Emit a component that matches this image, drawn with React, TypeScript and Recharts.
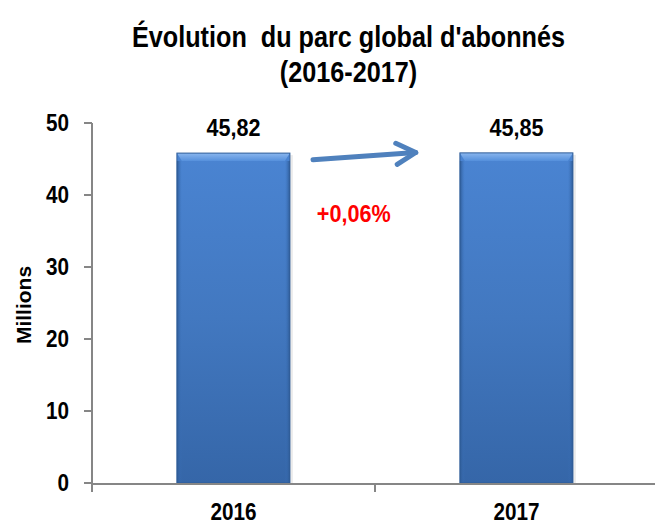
import {
  Bar,
  BarChart,
  LabelList,
  ReferenceDot,
  ReferenceLine,
  XAxis,
  YAxis,
} from 'recharts'

const years = ['2016', '2017']
const subscribers = [45.82, 45.85]
const valueLabels = ['45,82', '45,85']
const yTicks = [0, 10, 20, 30, 40, 50]
const growthLabel = '+0,06%'
const titleLines = ["Évolution  du parc global d'abonnés", '(2016-2017)']

const FONT = '"Liberation Sans", Arial, sans-serif'
const SQUEEZE = 0.9

const data = years.map((year, i) => ({
  year,
  pos: i + 0.5,
  value: subscribers[i],
  label: valueLabels[i],
}))

// texte gras un peu condensé (imitation Arial Narrow)
function NarrowText({ x, y, anchor, size, fill = '#000', children }: any) {
  return (
    <text
      transform={`translate(${x}, ${y}) scale(${SQUEEZE}, 1)`}
      textAnchor={anchor}
      fill={fill}
      fontFamily={FONT}
      fontWeight="bold"
      fontSize={size}
    >
      {children}
    </text>
  )
}

function YearTick({ x, y, payload }: any) {
  return (
    <NarrowText x={x} y={y + 29} anchor="middle" size={23}>
      {payload.value}
    </NarrowText>
  )
}

function ValueTick({ x, y, payload }: any) {
  return (
    <NarrowText x={x - 13} y={y + 8} anchor="end" size={23}>
      {payload.value}
    </NarrowText>
  )
}

function NoLabel() {
  return <g />
}

function BevelBar(props: any) {
  const { x, y, width, height } = props
  const b = 8
  const s = 5
  return (
    <g>
      <rect x={x + 3} y={y + 2} width={width} height={height - 2} fill="#000" opacity={0.08} />
      <rect x={x} y={y} width={width} height={height} fill="url(#barBody)" />
      <polygon
        points={`${x},${y + b} ${x + s},${y + b} ${x + s},${y + height} ${x},${y + height}`}
        fill="url(#barEdgeL)"
      />
      <polygon
        points={`${x + width - s},${y + b} ${x + width},${y + b} ${x + width},${y + height} ${x + width - s},${y + height}`}
        fill="url(#barEdgeR)"
      />
      <polygon
        points={`${x},${y} ${x + width},${y} ${x + width - s},${y + b} ${x + s},${y + b}`}
        fill="url(#barTop)"
      />
      <rect x={x} y={y} width={width} height={height} fill="none" stroke="#2f5d98" strokeWidth={1} />
    </g>
  )
}

function Arrow(props: any) {
  const { x1, y1, x2, y2 } = props
  const ang = Math.atan2(y2 - y1, x2 - x1)
  const len = 22
  const spread = 0.5
  const ax = x2 - len * Math.cos(ang - spread)
  const ay = y2 - len * Math.sin(ang - spread)
  const bx = x2 - len * Math.cos(ang + spread)
  const by = y2 - len * Math.sin(ang + spread)
  return (
    <g stroke="#4f81bd" strokeWidth={5} strokeLinecap="round" strokeLinejoin="round" fill="none">
      <line x1={x1} y1={y1} x2={x2} y2={y2} />
      <polyline points={`${ax},${ay} ${x2},${y2} ${bx},${by}`} />
    </g>
  )
}

function GrowthText(props: any) {
  const { cx, cy } = props
  return (
    <NarrowText x={cx} y={cy} anchor="middle" size={24} fill="#ff0000">
      {growthLabel}
    </NarrowText>
  )
}

function BarValue(props: any) {
  const { x, y, width, value } = props
  return (
    <NarrowText x={x + width / 2} y={y - 17} anchor="middle" size={24}>
      {value}
    </NarrowText>
  )
}

export default function App() {
  return (
    <div
      style={{
        position: 'absolute',
        left: 0,
        top: 0,
        width: 655,
        height: 524,
        background: '#fff',
        overflow: 'hidden',
        fontFamily: FONT,
      }}
    >
      <div
        style={{
          position: 'absolute',
          left: 21,
          top: 19,
          width: 655,
          textAlign: 'center',
          fontWeight: 'bold',
          fontSize: 30,
          lineHeight: '35px',
          color: '#000',
          whiteSpace: 'pre',
          transform: 'scaleX(0.84)',
          transformOrigin: 'center',
        }}
      >
        {titleLines[0]}
        {'\n'}
        {titleLines[1]}
      </div>
      <BarChart
        width={655}
        height={524}
        data={data}
        margin={{ top: 123, right: -3, bottom: 0, left: 22 }}
        barCategoryGap="30%"
        style={{ position: 'absolute', left: 0, top: 0, overflow: 'visible' }}
      >
        <defs>
          <linearGradient id="barBody" x1="0" y1="0" x2="0" y2="1">
            <stop offset="0%" stopColor="#4a84d2" />
            <stop offset="50%" stopColor="#4278c0" />
            <stop offset="100%" stopColor="#3566a8" />
          </linearGradient>
          <linearGradient id="barTop" x1="0" y1="0" x2="0" y2="1">
            <stop offset="0%" stopColor="#8ab6ee" />
            <stop offset="100%" stopColor="#5590dc" />
          </linearGradient>
          <linearGradient id="barEdgeL" x1="0" y1="0" x2="1" y2="0">
            <stop offset="0%" stopColor="#2e5a94" />
            <stop offset="100%" stopColor="#3c73bc" stopOpacity={0} />
          </linearGradient>
          <linearGradient id="barEdgeR" x1="0" y1="0" x2="1" y2="0">
            <stop offset="0%" stopColor="#3c73bc" stopOpacity={0} />
            <stop offset="100%" stopColor="#2e5a94" />
          </linearGradient>
        </defs>
        <XAxis
          xAxisId="n"
          dataKey="pos"
          type="number"
          domain={[0, 2]}
          allowDataOverflow
          ticks={[0, 1, 2]}
          height={40}
          tick={<NoLabel />}
          tickSize={8}
          axisLine={{ stroke: '#868686', strokeWidth: 2 }}
          tickLine={{ stroke: '#868686', strokeWidth: 2 }}
        />
        <XAxis
          dataKey="year"
          height={1}
          axisLine={false}
          tickLine={false}
          tick={<YearTick />}
        />
        <YAxis
          domain={[0, 50]}
          ticks={yTicks}
          width={70}
          tickSize={8}
          axisLine={{ stroke: '#868686', strokeWidth: 2 }}
          tickLine={{ stroke: '#868686', strokeWidth: 2 }}
          tick={<ValueTick />}
          label={{
            content: ({ viewBox }: any) => (
              <text
                x={0}
                y={0}
                transform={`translate(${viewBox.x + 1}, ${viewBox.y + viewBox.height / 2 + 2}) rotate(-90)`}
                textAnchor="middle"
                dominantBaseline="central"
                fill="#000"
                fontFamily={FONT}
                fontWeight="bold"
                fontSize={21}
              >
                Millions
              </text>
            ),
          }}
        />
        <Bar dataKey="value" shape={<BevelBar />} isAnimationActive={false}>
          <LabelList dataKey="label" content={<BarValue />} />
        </Bar>
        <ReferenceLine
          xAxisId="n"
          segment={[
            { x: 0.781, y: 44.9 },
            { x: 1.144, y: 45.9 },
          ]}
          ifOverflow="visible"
          shape={<Arrow />}
        />
        <ReferenceDot
          xAxisId="n"
          x={0.925}
          y={36.2}
          r={0}
          ifOverflow="visible"
          shape={<GrowthText />}
        />
      </BarChart>
    </div>
  )
}
